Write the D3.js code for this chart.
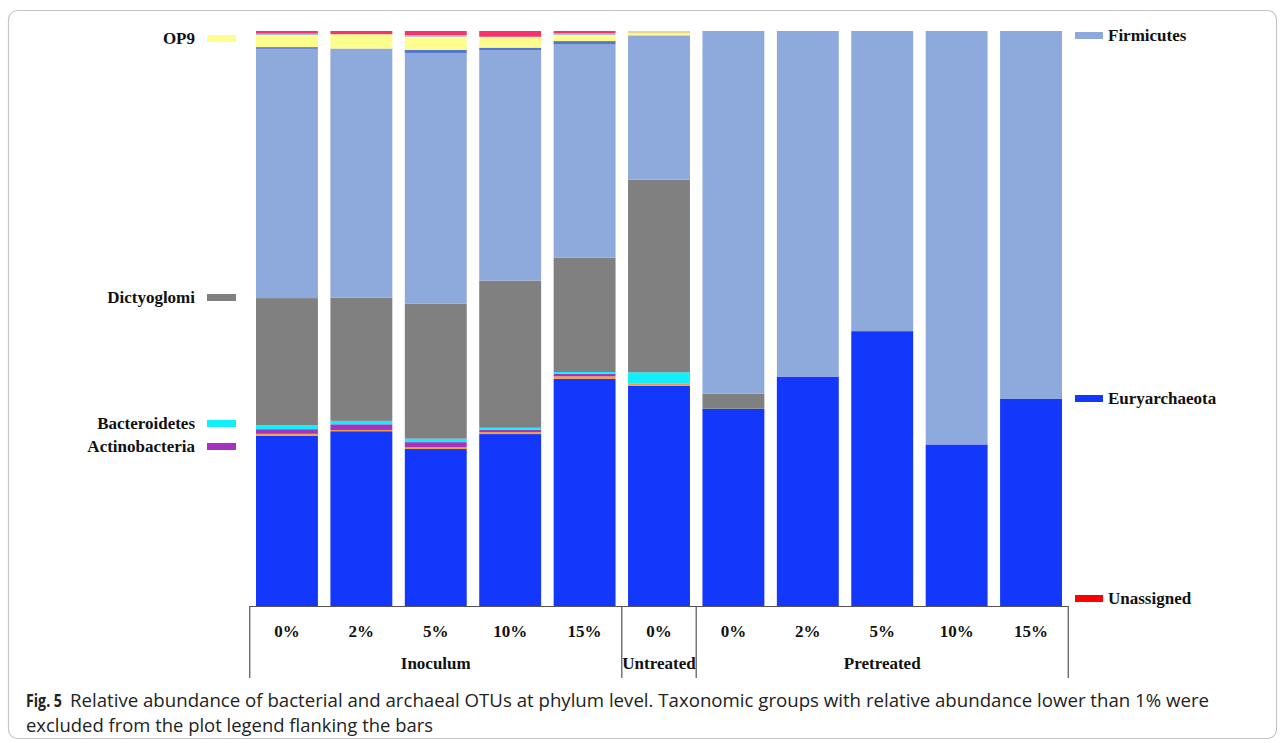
<!DOCTYPE html>
<html>
<head>
<meta charset="utf-8">
<script src="https://cdn.jsdelivr.net/npm/d3@7/dist/d3.min.js"></script>
<style>
  html, body { margin: 0; padding: 0; background: #ffffff; }
  svg { display: block; }
</style>
</head>
<body>
<svg id="chart" width="1285" height="743"></svg>
<script>
// ---------------- data ----------------
const categories = ["Ino0", "Ino2", "Ino5", "Ino10", "Ino15", "Unt0", "Pre0", "Pre2", "Pre5", "Pre10", "Pre15"];
const tickLabels = ["0%", "2%", "5%", "10%", "15%", "0%", "0%", "2%", "5%", "10%", "15%"];
const groupNames = ["Inoculum", "Untreated", "Pretreated"];
const groupStart = [0, 5, 6];
const groupEnd   = [4, 5, 10];

// stacked series, bottom to top (relative abundance, %)
const euryarchaeota  = [29.6, 30.4, 27.3, 29.9, 39.5, 38.3, 34.3, 39.9, 47.8, 28.1, 36.0];
const minorOrange    = [0.35, 0.2, 0.3, 0.35, 0.45, 0.45, 0, 0, 0, 0, 0];
const actinobacteria = [0.8, 1.0, 0.9, 0.4, 0.45, 0, 0, 0, 0, 0, 0];
const bacteroidetes  = [0.7, 0.6, 0.6, 0.35, 0.3, 1.9, 0, 0, 0, 0, 0];
const dictyoglomi    = [22.1, 21.4, 23.5, 25.6, 19.9, 33.5, 2.6, 0, 0, 0, 0];
const firmicutes     = [43.35, 43.35, 43.5, 40.1, 37.05, 25.1, 63.1, 60.1, 52.2, 71.9, 64.0];
const minorDarkBlue  = [0.3, 0, 0.6, 0.4, 0.6, 0, 0, 0, 0, 0, 0];
const op9            = [2.1, 2.5, 2.3, 1.9, 1.05, 0.35, 0, 0, 0, 0, 0];
const minorLightBlue = [0.25, 0, 0.3, 0, 0.3, 0, 0, 0, 0, 0, 0];
const minorPink      = [0.45, 0.55, 0.7, 1.0, 0.4, 0, 0, 0, 0, 0, 0];
const minorTan       = [0, 0, 0, 0, 0, 0.4, 0, 0, 0, 0, 0];

const seriesKeys = ["Euryarchaeota", "MinorOrange", "Actinobacteria", "Bacteroidetes", "Dictyoglomi",
                    "Firmicutes", "MinorDarkBlue", "OP9", "MinorLightBlue", "MinorPink", "MinorTan"];
const seriesValues = [euryarchaeota, minorOrange, actinobacteria, bacteroidetes, dictyoglomi,
                      firmicutes, minorDarkBlue, op9, minorLightBlue, minorPink, minorTan];
const seriesColors = ["#1438fb", "#f2a03c", "#a433c0", "#12eefa", "#808080",
                      "#8eaadc", "#5676cc", "#fdfd8e", "#a8bcd8", "#f8336c", "#e6d49a"];

const leftLegend  = ["OP9", "Dictyoglomi", "Bacteroidetes", "Actinobacteria"];
const leftLegendColors = ["#fdfd8e", "#808080", "#12eefa", "#a433c0"];
const rightLegend = ["Firmicutes", "Euryarchaeota", "Unassigned"];
const rightLegendColors = ["#8eaadc", "#1438fb", "#ff0000"];

// ---------------- layout ----------------
const svg = d3.select("#chart");
const plotTop = 31, plotBottom = 606;

// frame
svg.append("rect")
  .attr("x", 8.5).attr("y", 10.5).attr("width", 1268).attr("height", 728)
  .attr("rx", 9).attr("ry", 9)
  .attr("fill", "none").attr("stroke", "#c6c6c6").attr("stroke-width", 1.2);

const table = categories.map((c, i) => {
  const row = { cat: c };
  seriesKeys.forEach((k, j) => { row[k] = seriesValues[j][i]; });
  return row;
});

const x = d3.scaleBand()
  .domain(categories)
  .range([249.75, 1068.25])
  .paddingInner(0.168)
  .paddingOuter(0.084);

const y = d3.scaleLinear().domain([0, 100]).range([plotBottom, plotTop]);

const stack = d3.stack().keys(seriesKeys);
const layers = stack(table);

svg.append("g").selectAll("g")
  .data(layers)
  .join("g")
  .attr("fill", (d, i) => seriesColors[i])
  .selectAll("rect")
  .data(d => d)
  .join("rect")
  .attr("x", d => x(d.data.cat))
  .attr("width", x.bandwidth())
  .attr("y", d => y(d[1]))
  .attr("height", d => Math.max(0, y(d[0]) - y(d[1])));

// ---------------- bottom table axis ----------------
const serif = "'Liberation Serif', 'Times New Roman', serif";
const step = x.step();
const gap = step * x.paddingInner();
const boxLeft = x(categories[0]) - gap / 2;
const boxRight = x(categories[categories.length - 1]) + x.bandwidth() + gap / 2;
const boxBottom = 678;

const axisG = svg.append("g")
  .attr("transform", `translate(0,${plotBottom})`)
  .call(d3.axisBottom(x).tickSize(0).tickPadding(19)
        .tickFormat((d, i) => tickLabels[i]));
axisG.select(".domain").remove();
axisG.selectAll("text")
  .attr("font-family", serif)
  .attr("font-weight", "bold")
  .attr("font-size", 17)
  .attr("fill", "#111");

const lineColor = "#555";
svg.append("line")
  .attr("x1", boxLeft).attr("x2", boxRight)
  .attr("y1", plotBottom + 0.5).attr("y2", plotBottom + 0.5)
  .attr("stroke", lineColor).attr("stroke-width", 1.2);

const dividers = [boxLeft];
groupEnd.forEach(e => dividers.push(x(categories[e]) + x.bandwidth() + gap / 2));
svg.append("g").selectAll("line")
  .data(dividers)
  .join("line")
  .attr("x1", d => d).attr("x2", d => d)
  .attr("y1", plotBottom).attr("y2", boxBottom)
  .attr("stroke", lineColor).attr("stroke-width", 1.2);

svg.append("g").selectAll("text")
  .data(groupNames)
  .join("text")
  .attr("x", (d, i) => {
    const a = x(categories[groupStart[i]]);
    const b = x(categories[groupEnd[i]]) + x.bandwidth();
    return (a + b) / 2;
  })
  .attr("y", 669)
  .attr("text-anchor", "middle")
  .attr("font-family", serif)
  .attr("font-weight", "bold")
  .attr("font-size", 17)
  .attr("fill", "#111")
  .text(d => d);

// ---------------- legends ----------------
const leftY = [38, 297, 423, 446];
const lg = svg.append("g");
lg.selectAll("rect")
  .data(leftLegend)
  .join("rect")
  .attr("x", 207).attr("width", 29)
  .attr("y", (d, i) => leftY[i] - 3).attr("height", 7)
  .attr("fill", (d, i) => leftLegendColors[i]);
lg.selectAll("text")
  .data(leftLegend)
  .join("text")
  .attr("x", 195)
  .attr("y", (d, i) => leftY[i])
  .attr("dy", "0.35em")
  .attr("text-anchor", "end")
  .attr("font-family", serif)
  .attr("font-weight", "bold")
  .attr("font-size", 17)
  .attr("fill", "#111")
  .text(d => d);

const rightY = [35, 398, 598];
const rg = svg.append("g");
rg.selectAll("rect")
  .data(rightLegend)
  .join("rect")
  .attr("x", 1075).attr("width", 28)
  .attr("y", (d, i) => rightY[i] - 3).attr("height", 7)
  .attr("fill", (d, i) => rightLegendColors[i]);
rg.selectAll("text")
  .data(rightLegend)
  .join("text")
  .attr("x", 1108)
  .attr("y", (d, i) => rightY[i])
  .attr("dy", "0.35em")
  .attr("font-family", serif)
  .attr("font-weight", "bold")
  .attr("font-size", 17)
  .attr("fill", "#111")
  .text(d => d);

// ---------------- caption ----------------
const sans = "'Open Sans', 'Noto Sans', sans-serif";
svg.append("text")
  .attr("x", 26).attr("y", 707)
  .attr("font-family", sans).attr("font-weight", "bold").attr("font-size", 18.5)
  .attr("textLength", 36).attr("lengthAdjust", "spacingAndGlyphs")
  .attr("fill", "#222")
  .text("Fig. 5");
svg.append("text")
  .attr("x", 70).attr("y", 707)
  .attr("font-family", sans).attr("font-size", 18.5)
  .attr("textLength", 1139).attr("lengthAdjust", "spacingAndGlyphs")
  .attr("fill", "#222")
  .text("Relative abundance of bacterial and archaeal OTUs at phylum level. Taxonomic groups with relative abundance lower than 1% were");
svg.append("text")
  .attr("x", 26).attr("y", 732)
  .attr("font-family", sans).attr("font-size", 18.5)
  .attr("textLength", 407).attr("lengthAdjust", "spacingAndGlyphs")
  .attr("fill", "#222")
  .text("excluded from the plot legend flanking the bars");
</script>
</body>
</html>
